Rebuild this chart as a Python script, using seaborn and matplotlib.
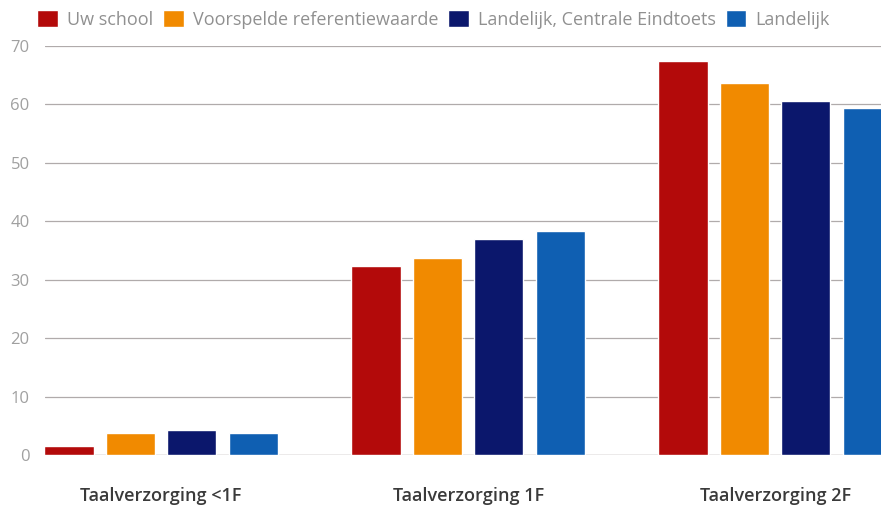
import numpy as np
import pandas as pd
from matplotlib import pyplot as plt
import seaborn as sns

categories = ['Taalverzorging <1F', 'Taalverzorging 1F', 'Taalverzorging 2F']
series = ['Uw school', 'Voorspelde referentiewaarde', 'Landelijk, Centrale Eindtoets', 'Landelijk']
uw_school = [1.5, 32.4, 67.4]
voorspeld = [3.8, 33.8, 63.7]
landelijk_ce = [4.2, 36.9, 60.6]
landelijk = [3.8, 38.3, 59.4]
colors = ['#B30A0A', '#F18A00', '#0B176C', '#0F5FB2']

rows = []
for name, vals in zip(series, [uw_school, voorspeld, landelijk_ce, landelijk]):
    for cat, v in zip(categories, vals):
        rows.append({'categorie': cat, 'serie': name, 'waarde': v})
df = pd.DataFrame(rows)

sns.set_style('white')
plt.rcParams['font.family'] = ['Open Sans', 'DejaVu Sans']

fig = plt.figure(figsize=(8.81, 5.09), dpi=100)
ax = fig.add_axes([45/881, 1-455/509, 1-45/881, 409/509])

sns.barplot(data=df, x='categorie', y='waarde', hue='serie',
            hue_order=series, order=categories, palette=colors,
            width=0.8, gap=0.2, saturation=1, ax=ax, zorder=3)

ax.set_xlim(-0.378, 2.345)
ax.set_ylim(0, 70)
ax.set_yticks(np.arange(0, 71, 10))
ax.yaxis.grid(True, color='#b0abab', linewidth=0.9, linestyle='-', zorder=0)
ax.set_axisbelow(True)
for s in ax.spines.values():
    s.set_visible(False)
ax.axhline(0, color='#b0abab', linewidth=0.9, zorder=1)

ax.tick_params(axis='y', length=0, pad=11, labelsize=12, labelcolor='#a0a0a0')
ax.tick_params(axis='x', length=0, pad=23, labelsize=13, labelcolor='#3a3a3a')
for lab in ax.get_xticklabels():
    lab.set_fontweight('semibold')
ax.set_xlabel('')
ax.set_ylabel('')

handles, labels = ax.get_legend_handles_labels()
ax.legend_.remove()
fig.legend(handles, labels, loc='upper left', bbox_to_anchor=(37/881, 1 - 10/509),
           ncol=4, frameon=False, borderpad=0, borderaxespad=0,
           handlelength=1.15, handleheight=1.1,
           handletextpad=0.5, columnspacing=0.55, fontsize=13,
           labelcolor='#909090')

fig.savefig('out.png', dpi=100)
